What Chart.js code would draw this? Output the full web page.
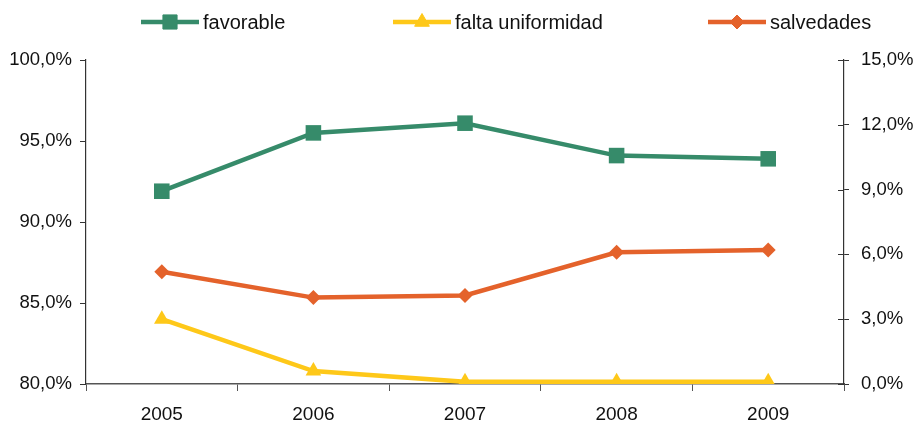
<!DOCTYPE html>
<html>
<head>
<meta charset="utf-8">
<script src="https://cdn.jsdelivr.net/npm/chart.js@4.4.1/dist/chart.umd.min.js"></script>
<style>
  html, body { margin: 0; padding: 0; background: #ffffff; }
  #wrap { width: 915px; height: 426px; position: relative; }
</style>
</head>
<body>
<div id="wrap"><canvas id="c" width="915" height="426"></canvas></div>
<script>
const categories = ['2005', '2006', '2007', '2008', '2009'];
const favorable = [91.9, 95.5, 96.1, 94.1, 93.9];
const faltaUniformidad = [3.0, 0.6, 0.1, 0.1, 0.1];
const salvedades = [5.2, 4.0, 4.1, 6.1, 6.2];
const seriesNames = ['favorable', 'falta uniformidad', 'salvedades'];
const leftTicks = [80, 85, 90, 95, 100];
const rightTicks = [0, 3, 6, 9, 12, 15];

const GREEN = '#368b6a';
const YELLOW = '#fec819';
const ORANGE = '#e4622b';
const FONT = '"Liberation Sans", Arial, sans-serif';

const fmt = v => v.toFixed(1).replace('.', ',') + '%';

const legendItems = [
  { text: seriesNames[0], color: GREEN, style: 'rect', radius: 10, x: 141 },
  { text: seriesNames[1], color: YELLOW, style: 'triangle', radius: 8.5, x: 393 },
  { text: seriesNames[2], color: ORANGE, style: 'rectRot', radius: 7, x: 708 }
];

const legendPlugin = {
  id: 'customLegend',
  afterDraw(chart) {
    const ctx = chart.ctx;
    const y = 22;
    ctx.save();
    legendItems.forEach(it => {
      ctx.strokeStyle = it.color;
      ctx.lineWidth = 4.5;
      ctx.beginPath();
      ctx.moveTo(it.x, y);
      ctx.lineTo(it.x + 58, y);
      ctx.stroke();
      ctx.fillStyle = it.color;
      ctx.lineWidth = 1;
      Chart.helpers.drawPoint(ctx, { pointStyle: it.style, radius: it.radius, rotation: 0, borderWidth: 1 }, it.x + 29, y);
      ctx.fillStyle = '#111111';
      ctx.font = '20px ' + FONT;
      ctx.textBaseline = 'middle';
      ctx.textAlign = 'left';
      ctx.fillText(it.text, it.x + 62, y + 1);
    });
    ctx.restore();
  }
};

const innerTicksPlugin = {
  id: 'innerTicks',
  afterDraw(chart) {
    const s = chart.scales.y2;
    const ctx = chart.ctx;
    ctx.save();
    ctx.strokeStyle = '#333333';
    ctx.lineWidth = 1;
    s.ticks.forEach(t => {
      const py = Math.round(s.getPixelForValue(t.value)) + 0.5;
      ctx.beginPath();
      ctx.moveTo(s.left - 6, py);
      ctx.lineTo(s.left, py);
      ctx.stroke();
    });
    ctx.restore();
  }
};

new Chart(document.getElementById('c'), {
  type: 'line',
  data: {
    labels: categories,
    datasets: [
      {
        label: seriesNames[0], data: favorable, yAxisID: 'y',
        borderColor: GREEN, backgroundColor: GREEN, borderWidth: 4.5,
        pointStyle: 'rect', pointRadius: 11, pointBorderWidth: 0, tension: 0
      },
      {
        label: seriesNames[1], data: faltaUniformidad, yAxisID: 'y2',
        borderColor: YELLOW, backgroundColor: YELLOW, borderWidth: 4.5,
        pointStyle: 'triangle', pointRadius: 9, pointBorderWidth: 0, tension: 0
      },
      {
        label: seriesNames[2], data: salvedades, yAxisID: 'y2',
        borderColor: ORANGE, backgroundColor: ORANGE, borderWidth: 4.5,
        pointStyle: 'rectRot', pointRadius: 7.5, pointBorderWidth: 0, tension: 0
      }
    ]
  },
  options: {
    responsive: false,
    animation: false,
    devicePixelRatio: 1,
    layout: { padding: { top: 60, left: 0, right: 0, bottom: 0 } },
    plugins: { legend: { display: false }, tooltip: { enabled: false } },
    scales: {
      x: {
        type: 'category',
        offset: true,
        grid: { offset: true, drawOnChartArea: false, drawTicks: true, tickLength: 7, color: '#555555', lineWidth: 1 },
        border: { display: true, color: '#555555', width: 1.5 },
        ticks: { color: '#111111', font: { family: FONT, size: 19 }, padding: 12, maxRotation: 0 },
        afterFit(s) { s.height = 42; }
      },
      y: {
        position: 'left',
        min: 80, max: 100,
        afterBuildTicks(s) { s.ticks = leftTicks.map(v => ({ value: v })); },
        grid: { drawOnChartArea: false, drawTicks: true, tickLength: 6, color: '#333333', lineWidth: 1 },
        border: { display: true, color: '#333333', width: 1.2 },
        ticks: { color: '#111111', font: { family: FONT, size: 18.5 }, padding: 8, callback: v => fmt(v) },
        afterFit(s) { s.width = 86; }
      },
      y2: {
        position: 'right',
        min: 0, max: 15,
        afterBuildTicks(s) { s.ticks = rightTicks.map(v => ({ value: v })); },
        grid: { drawOnChartArea: false, drawTicks: true, tickLength: 5, color: '#333333', lineWidth: 1 },
        border: { display: true, color: '#333333', width: 1.2 },
        ticks: { color: '#111111', font: { family: FONT, size: 18.5 }, padding: 12, callback: v => fmt(v) },
        afterFit(s) { s.width = 71; }
      }
    }
  },
  plugins: [legendPlugin, innerTicksPlugin]
});
</script>
</body>
</html>
